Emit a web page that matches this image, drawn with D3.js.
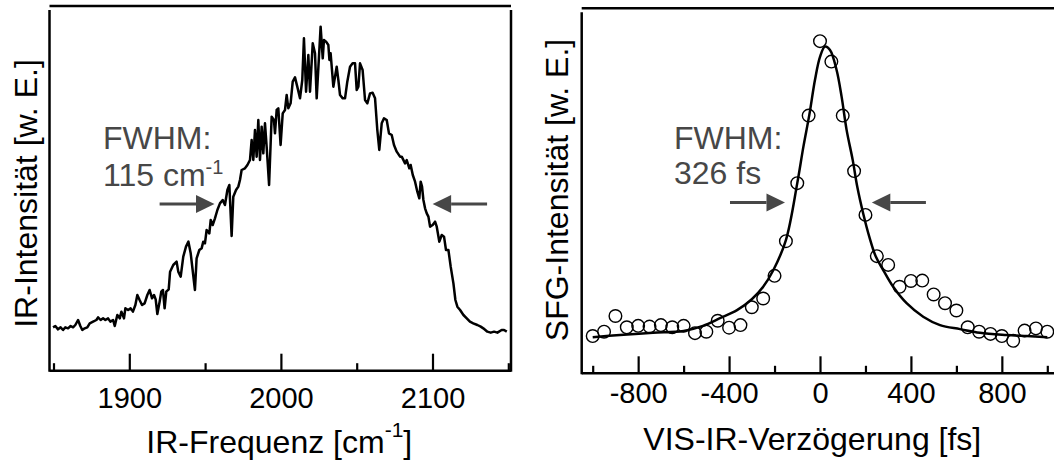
<!DOCTYPE html>
<html>
<head>
<meta charset="utf-8">
<title>IR-Spektrum und SFG-Kreuzkorrelation</title>
<script src="https://d3js.org/d3.v7.min.js"></script>
<style>
  body { margin: 0; background: #fff; }
  svg { display: block; font-family: "Liberation Sans", Arial, sans-serif; }
  .frame { stroke: #000; stroke-width: 2.5; }
  .tick line { stroke: #000; stroke-width: 2.2; }
  .tick text { font-size: 29px; fill: #000; font-family: "Liberation Sans", Arial, sans-serif; }
  .title { font-size: 32px; fill: #000; }
  .note { font-size: 32px; fill: #474747; }
  .arrow { stroke: #474747; stroke-width: 3; fill: none; }
  .head { fill: #474747; }
</style>
</head>
<body>
<svg width="1054" height="462"></svg>
<script>
// IR spectrum: frequency [cm-1] and intensity [a.u.]
const irFreq = [
  1849.7, 1851.2, 1853.0, 1854.7, 1856.3, 1857.8, 1859.6, 1861.3, 1862.9, 1864.4,
  1866.2, 1867.7, 1869.0, 1870.6, 1872.3, 1873.9, 1876.1, 1878.3, 1879.4, 1881.1,
  1882.7, 1884.2, 1886.0, 1887.5, 1889.3, 1890.4, 1892.1, 1893.7, 1894.8, 1896.5,
  1897.4, 1899.2, 1900.9, 1902.4, 1904.0, 1905.3, 1906.8, 1908.4, 1910.1, 1911.9,
  1913.4, 1915.0, 1916.3, 1917.4, 1918.5, 1920.0, 1921.1, 1922.2, 1923.3, 1924.4,
  1926.0, 1926.9, 1929.0, 1931.2, 1932.3, 1933.9, 1935.6, 1937.4, 1939.0, 1940.5,
  1943.3, 1944.4, 1946.2, 1947.7, 1948.8, 1949.9, 1951.0, 1952.8, 1953.7, 1955.0,
  1956.5, 1958.1, 1959.8, 1961.6, 1963.1, 1964.7, 1966.0, 1967.5, 1968.6, 1970.4,
  1971.9, 1973.0, 1974.1, 1976.3, 1977.9, 1979.6, 1980.7, 1981.8, 1982.9, 1984.0,
  1985.1, 1986.2, 1987.3, 1988.4, 1989.5, 1990.6, 1992.2, 1993.9, 1995.4, 1996.1,
  1997.2, 1998.3, 1999.8, 2001.2, 2002.7, 2003.8, 2004.9, 2006.4, 2007.8, 2009.3,
  2010.8, 2012.6, 2014.1, 2015.2, 2016.6, 2018.1, 2019.2, 2021.0, 2022.5, 2023.6,
  2026.2, 2027.6, 2028.4, 2029.8, 2031.3, 2032.0, 2032.8, 2034.6, 2036.8, 2037.9,
  2039.0, 2040.8, 2042.3, 2043.8, 2045.6, 2047.3, 2048.9, 2050.0, 2051.1, 2052.2,
  2053.9, 2055.5, 2057.0, 2058.8, 2060.5, 2062.1, 2063.6, 2064.9, 2066.5, 2068.0,
  2069.8, 2071.3, 2073.1, 2074.6, 2076.4, 2078.6, 2079.7, 2081.9, 2083.0, 2084.7,
  2085.6, 2087.0, 2088.5, 2090.0, 2091.3, 2092.2, 2093.1, 2094.0, 2095.1, 2096.2,
  2097.3, 2098.4, 2100.1, 2101.7, 2102.8, 2104.5, 2106.1, 2107.6, 2108.9, 2110.5,
  2112.0, 2113.8, 2115.1, 2116.4, 2118.2, 2120.4, 2122.6, 2124.7, 2126.9, 2129.6,
  2131.8, 2133.5, 2136.2, 2138.4, 2140.6, 2142.8, 2145.6, 2147.2, 2149.0
];
const irInt = [
  12.8, 13.2, 12.2, 12.8, 12.0, 12.8, 12.5, 13.2, 12.8, 13.5,
  15.0, 13.2, 12.0, 12.5, 12.8, 14.0, 14.5, 15.0, 15.8, 15.0,
  15.5, 15.0, 15.5, 14.5, 15.0, 13.2, 16.5, 15.5, 17.5, 15.5,
  18.5, 18.0, 18.5, 17.5, 19.5, 22.5, 21.0, 19.5, 20.0, 22.5,
  24.0, 21.5, 22.5, 21.2, 16.8, 20.5, 23.5, 24.0, 18.5, 23.5,
  24.2, 29.5, 31.5, 32.5, 29.5, 28.0, 34.0, 37.0, 38.5, 35.0,
  24.0, 33.5, 36.0, 36.5, 38.5, 38.0, 42.0, 41.0, 45.0, 43.5,
  45.5, 48.0, 50.0, 51.0, 49.5, 54.0, 55.5, 40.2, 52.0, 54.0,
  55.0, 57.0, 60.0, 60.5, 61.5, 63.0, 69.0, 63.0, 72.0, 64.0,
  75.0, 63.0, 73.0, 65.0, 74.0, 67.0, 55.5, 76.0, 75.0, 71.0,
  78.0, 78.5, 67.5, 77.0, 78.0, 82.5, 78.5, 80.0, 86.5, 87.8,
  85.0, 81.5, 87.0, 99.5, 83.5, 94.5, 83.5, 98.0, 95.0, 81.5,
  103.0, 93.5, 99.0, 98.5, 97.5, 93.0, 95.0, 85.0, 91.0, 87.0,
  82.5, 81.5, 81.5, 86.5, 91.0, 92.0, 92.0, 84.0, 85.0, 92.0,
  90.0, 81.0, 80.0, 83.0, 83.2, 81.5, 72.0, 66.0, 74.0, 75.5,
  75.0, 71.0, 70.5, 67.5, 65.5, 64.0, 64.0, 62.0, 63.0, 60.5,
  61.5, 58.5, 56.5, 53.5, 51.5, 56.5, 55.0, 51.0, 48.5, 47.0,
  46.0, 43.0, 43.5, 44.5, 43.0, 38.5, 40.5, 40.0, 36.0, 36.0,
  31.0, 26.0, 21.0, 19.0, 18.0, 16.5, 15.5, 14.5, 14.0, 13.5,
  13.0, 12.5, 11.5, 11.2, 11.5, 11.2, 12.0, 12.0, 11.5
];
const irMajor = [1900, 2000, 2100];
const irMinor = [1850, 1950, 2050, 2150];

// SFG cross-correlation: measured points and fit, delay [fs]
const delay = [
  -1000, -950, -900, -850, -800, -750, -700, -650, -600, -550, -500,
  -450, -400, -350, -300, -250, -200, -150, -100, -50, 0,
  50, 100, 150, 200, 250, 300, 350, 400, 450, 500,
  550, 600, 650, 700, 750, 800, 850, 900, 950, 1000
];
const sfg = [
  10.2, 11.4, 15.7, 12.6, 13.0, 12.8, 13.2, 12.6, 13.0, 11.0, 11.4,
  14.4, 12.5, 13.2, 18.1, 20.5, 26.7, 36.2, 52.1, 70.6, 91.0,
  85.4, 70.6, 55.4, 43.4, 32.1, 29.7, 23.7, 25.3, 25.4, 21.6,
  19.2, 17.2, 12.6, 11.4, 10.8, 10.2, 8.9, 11.7, 12.3, 11.4
];
const fitDelay = [
  -1000, -880, -735, -600, -515, -440, -365, -300, -250, -205, -150, -100,
  -73, -47, -22, 0, 22, 44, 73, 95, 117, 144, 164, 190,
  217, 246, 278, 322, 381, 454, 528, 616, 704, 821, 909, 1000
];
const fitSfg = [
  9.9, 10.5, 11.1, 11.6, 13.0, 15.1, 17.3, 20.3, 23.7, 28.3, 36.5, 52.1,
  62.1, 70.8, 80.4, 86.7, 89.5, 88.6, 83.1, 75.8, 66.7, 58.4, 51.1, 43.8,
  37.4, 31.9, 28.3, 23.7, 19.2, 15.5, 13.2, 12.1, 11.1, 10.5, 10.2, 9.9
];
const delayMajor = [-800, -400, 0, 400, 800];
const delayMinor = [-1000, -600, -200, 200, 600, 1000];

const svg = d3.select("svg");

// scales
const xIR = d3.scaleLinear().domain([1900, 2100]).range([129.3, 432.5]);
const yIR = d3.scaleLinear().domain([0, 100]).range([370, 36.67]);
const xD = d3.scaleLinear().domain([-1000, 1000]).range([592.7, 1047.3]);
const yD = d3.scaleLinear().domain([0, 100]).range([373.3, 8.3]);

function frame(b) {
  const g = svg.append("g").attr("class", "frame");
  g.append("line").attr("x1", b.x0).attr("x2", b.x1).attr("y1", b.top).attr("y2", b.top);
  g.append("line").attr("x1", b.x0).attr("x2", b.x0).attr("y1", b.top + 4).attr("y2", b.bottom + 1);
  if (b.right) g.append("line").attr("x1", b.x1).attr("x2", b.x1).attr("y1", b.top + 4).attr("y2", b.bottom + 1);
  g.append("line").attr("x1", b.x0).attr("x2", b.x1).attr("y1", b.bottom).attr("y2", b.bottom);
}

function axis(x, y0, major, minor, pad) {
  const gMin = svg.append("g").attr("transform", `translate(0,${y0})`)
    .call(d3.axisBottom(x).tickValues(minor).tickSizeInner(-7.5).tickSizeOuter(0).tickFormat(""));
  gMin.select(".domain").remove();
  const gMaj = svg.append("g").attr("transform", `translate(0,${y0})`)
    .attr("font-family", null).attr("font-size", null)
    .call(d3.axisBottom(x).tickValues(major).tickSizeInner(-17).tickSizeOuter(0)
      .tickPadding(pad).tickFormat(d => String(d)));
  gMaj.select(".domain").remove();
}

function arrow(x1, x2, y) {
  // shaft from x1 towards the tip x2
  const dir = Math.sign(x2 - x1), len = 18.5, hw = 9;
  svg.append("line").attr("class", "arrow")
    .attr("x1", x1).attr("x2", x2 - dir * len).attr("y1", y).attr("y2", y);
  svg.append("path").attr("class", "head")
    .attr("d", `M${x2},${y}L${x2 - dir * len},${y - hw}L${x2 - dir * len},${y + hw}Z`);
}

// ---- left panel: IR spectrum
frame({ x0: 49.5, x1: 511, top: 6, bottom: 370.7, right: true });
axis(xIR, 370.7, irMajor, irMinor, 16.5);

svg.append("path")
  .datum(irFreq.map((f, i) => [f, irInt[i]]))
  .attr("fill", "none").attr("stroke", "#000").attr("stroke-width", 2.5)
  .attr("stroke-linejoin", "round")
  .attr("d", d3.line().x(d => xIR(d[0])).y(d => yIR(d[1])));

arrow(xIR(1920), xIR(1956.2), yIR(49.8));
arrow(xIR(2136), xIR(2100.1), yIR(49.8));

svg.append("text").attr("class", "note").attr("x", 103).attr("y", 149).text("FWHM:");
const n1 = svg.append("text").attr("class", "note").attr("x", 103).attr("y", 186);
n1.append("tspan").text("115 cm");
n1.append("tspan").attr("dy", -12).attr("font-size", 20).text("-1");

const t1 = svg.append("text").attr("class", "title").attr("x", 279.3).attr("y", 453)
  .attr("text-anchor", "middle");
t1.append("tspan").text("IR-Frequenz [cm");
t1.append("tspan").attr("dy", -16).attr("font-size", 21).text("-1");
t1.append("tspan").attr("dy", 16).text("]");

svg.append("text").attr("class", "title").attr("text-anchor", "middle")
  .attr("transform", "translate(37,193.5) rotate(-90)")
  .text("IR-Intensität [w. E.]");

// ---- right panel: SFG cross-correlation
frame({ x0: 581.7, x1: 1054, top: 8.3, bottom: 373.3, right: false });
axis(xD, 373.3, delayMajor, delayMinor, 9.5);

svg.append("path")
  .datum(fitDelay.map((t, i) => [t, fitSfg[i]]))
  .attr("fill", "none").attr("stroke", "#000").attr("stroke-width", 2.5)
  .attr("d", d3.line().curve(d3.curveCatmullRom).x(d => xD(d[0])).y(d => yD(d[1])));

svg.append("g").selectAll("circle")
  .data(delay.map((t, i) => [t, sfg[i]]))
  .join("circle")
  .attr("cx", d => xD(d[0])).attr("cy", d => yD(d[1])).attr("r", 6.3)
  .attr("fill", "none").attr("stroke", "#000").attr("stroke-width", 1.4);

arrow(xD(-396), xD(-154), yD(46.8));
arrow(xD(466), xD(228), yD(46.8));

svg.append("text").attr("class", "note").attr("x", 674).attr("y", 149).text("FWHM:");
svg.append("text").attr("class", "note").attr("x", 674).attr("y", 183.5).text("326 fs");

svg.append("text").attr("class", "title").attr("x", 812.3).attr("y", 450)
  .attr("text-anchor", "middle").text("VIS-IR-Verzögerung [fs]");

svg.append("text").attr("class", "title").attr("text-anchor", "middle")
  .attr("transform", "translate(568,190) rotate(-90)")
  .text("SFG-Intensität [w. E.]");
</script>
</body>
</html>
